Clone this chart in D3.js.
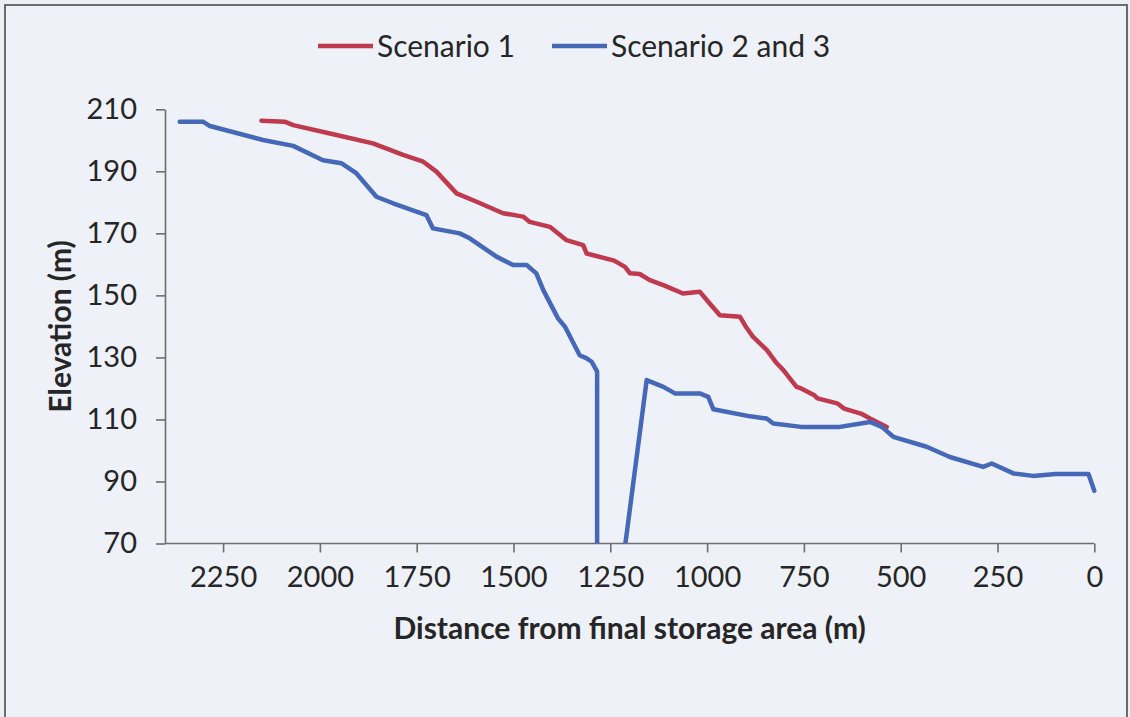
<!DOCTYPE html>
<html>
<head>
<meta charset="utf-8">
<script src="https://cdn.jsdelivr.net/npm/d3@7/dist/d3.min.js"></script>
<style>
  html, body { margin: 0; padding: 0; background: #eceff5; }
  svg { display: block; }
  text { font-family: Lato, "Open Sans", sans-serif; fill: #262626; }
</style>
</head>
<body>
<svg id="chart" width="1130" height="717"></svg>
<script>
// Longitudinal profile: distance upstream of the final storage area (m) vs. elevation (m)
const seriesNames = ["Scenario 1", "Scenario 2 and 3"];

const distScenario1 = [2151, 2091, 2069, 1957, 1863, 1785, 1733, 1699, 1647, 1595, 1527, 1475, 1458, 1406,
  1363, 1320, 1311, 1240, 1212, 1199, 1174, 1148, 1113, 1062, 1019, 1001, 967, 915, 900, 881, 846, 820,
  803, 769, 757, 723, 715, 664, 646, 603, 579, 536];
const elevScenario1 = [206.3, 206.0, 204.9, 201.7, 199.0, 195.3, 193.1, 189.9, 182.9, 180.2, 176.5, 175.4, 173.7, 172.1,
  167.8, 166.2, 163.5, 161.2, 159.2, 157.1, 156.9, 154.9, 153.3, 150.6, 151.2, 148.5, 143.6, 143.1, 139.9, 136.6, 132.4, 128.1,
  125.9, 120.5, 120.0, 117.8, 116.8, 115.2, 113.5, 111.9, 110.3, 107.6];

const distScenario23 = [2362, 2302, 2284, 2147, 2069, 1992, 1944, 1906, 1854, 1811, 1725, 1708, 1639, 1613,
  1544, 1501, 1466, 1441, 1423, 1385, 1367, 1329, 1311, 1298, 1284, 1284, 1156, 1113, 1083, 1019, 997,
  984, 889, 846, 829, 757, 657, 579, 549, 519, 433, 373, 287, 265, 209, 158, 100, 15, 0];
const elevScenario23 = [206.0, 206.0, 204.6, 200.1, 198.2, 193.6, 192.6, 189.4, 181.8, 179.7, 175.9, 171.6, 170.0, 168.4,
  162.5, 159.8, 159.8, 157.1, 151.7, 142.6, 139.9, 130.7, 129.7, 128.6, 125.4, 0, 122.7, 120.5, 118.4, 118.4, 117.3,
  113.3, 111.0, 110.3, 108.7, 107.6, 107.6, 109.2, 107.6, 104.4, 101.2, 97.9, 94.7, 95.8, 92.6, 91.8, 92.4, 92.4, 87.0];

const xTicks = [2250, 2000, 1750, 1500, 1250, 1000, 750, 500, 250, 0];
const yTicks = [70, 90, 110, 130, 150, 170, 190, 210];
const xDomain = [2400, 0];
const yDomain = [70, 210];
const colors = ["#c03a4e", "#4668b9"];

const svg = d3.select("#chart");
const W = 1130, H = 717;
const margin = { left: 165, top: 109.3, right: 35.7, bottom: 173.5 };
const plotW = W - margin.left - margin.right;
const plotH = H - margin.top - margin.bottom;

// outer chart frame
svg.append("path")
  .attr("d", `M5,${H + 5} V5 H1127 V${H + 5}`)
  .attr("fill", "#eef1f7")
  .attr("stroke", "#6b6b6b")
  .attr("stroke-width", 2);

const x = d3.scaleLinear().domain(xDomain).range([0, plotW]);
const y = d3.scaleLinear().domain(yDomain).range([plotH, 0]);

const g = svg.append("g").attr("transform", `translate(${margin.left},${margin.top})`);

g.append("clipPath").attr("id", "plotClip")
  .append("rect").attr("x", 0).attr("y", -10).attr("width", plotW + 10).attr("height", plotH + 10);

// axes
const fmt = d3.format("d");
const xAxis = g.append("g").attr("transform", `translate(0,${plotH})`)
  .call(d3.axisBottom(x).tickValues(xTicks).tickFormat(fmt).tickSize(9).tickPadding(14).tickSizeOuter(0));
const yAxis = g.append("g")
  .call(d3.axisLeft(y).tickValues(yTicks).tickFormat(fmt).tickSize(9).tickPadding(19).tickSizeOuter(0));

[xAxis, yAxis].forEach(a => {
  a.select(".domain").attr("stroke", "#6e6e6e").attr("stroke-width", 1.6);
  a.selectAll(".tick line").attr("stroke", "#6e6e6e").attr("stroke-width", 1.6);
  a.selectAll(".tick text").style("font-size", "29px").attr("fill", "#262626");
});
// extend the x domain line to the axis ends
xAxis.select(".domain").attr("d", `M0,0H${plotW}`);

// data lines
const line = d3.line().x(d => x(d[0])).y(d => y(d[1]));
const s1 = distScenario1.map((d, i) => [d, elevScenario1[i]]);
const s23 = distScenario23.map((d, i) => [d, elevScenario23[i]]);

const lines = g.append("g").attr("clip-path", "url(#plotClip)");
[s1, s23].forEach((data, i) => {
  lines.append("path")
    .datum(data)
    .attr("d", line)
    .attr("fill", "none")
    .attr("stroke", colors[i])
    .attr("stroke-width", 4.5)
    .attr("stroke-linejoin", "round")
    .attr("stroke-linecap", "round");
});

// axis titles
svg.append("text")
  .attr("x", margin.left + plotW / 2)
  .attr("y", 639)
  .attr("text-anchor", "middle")
  .style("font-size", "30px")
  .style("font-weight", "bold")
  .text("Distance from final storage area (m)");

svg.append("text")
  .attr("transform", `translate(71,${margin.top + plotH / 2}) rotate(-90)`)
  .attr("text-anchor", "middle")
  .style("font-size", "30px")
  .style("font-weight", "bold")
  .text("Elevation (m)");

// legend
const legendItems = [{ x: 318, name: seriesNames[0], color: colors[0] }, { x: 552, name: seriesNames[1], color: colors[1] }];
const legend = svg.append("g");
legendItems.forEach(item => {
  legend.append("line")
    .attr("x1", item.x).attr("x2", item.x + 55)
    .attr("y1", 46).attr("y2", 46)
    .attr("stroke", item.color).attr("stroke-width", 4.5);
  legend.append("text")
    .attr("x", item.x + 59).attr("y", 46)
    .attr("dy", "0.35em")
    .style("font-size", "30px")
    .text(item.name);
});
</script>
</body>
</html>
